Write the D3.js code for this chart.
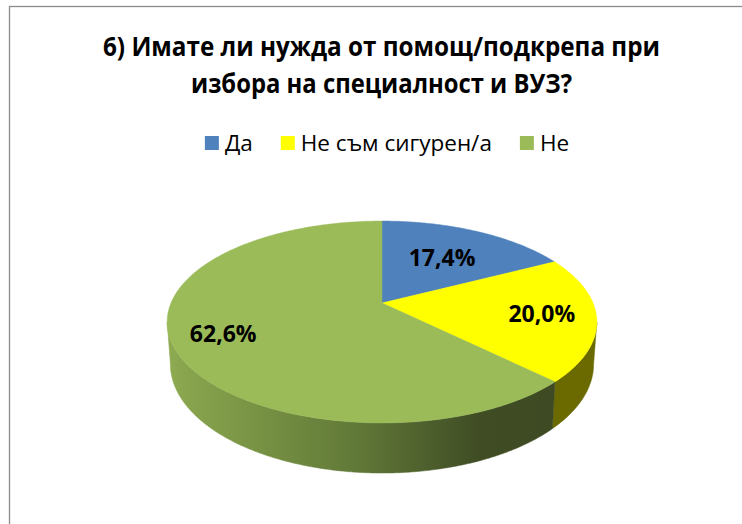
<html><head>
  <script src="https://d3js.org/d3.v7.min.js"></script>
  <style>
  body { margin: 0; background: #fff; }
  text { font-family: "Open Sans", "Noto Sans", sans-serif; fill: #000; }
  .title { font-weight: 700; font-size: 27px; text-anchor: middle; }
  .legend text { font-size: 22.5px; }
  .label { font-weight: 700; font-size: 23px; text-anchor: middle; }
  </style>
</head>
<body>
  <svg id="chart" width="742" height="524"></svg>

  <script>

  // data
  const titleLines = ["6) Имате ли нужда от помощ/подкрепа при", "избора на специалност и ВУЗ?"];
  const categories = ["Да", "Не съм сигурен/а", "Не"];
  const values = [17.4, 20.0, 62.6];
  const colors = ["#4F81BD", "#FFFF00", "#9BBB59"];
  const sideColors = ["#2f4d72", "#6a6a00", "url(#greenSide)"];

  // layout of the tilted pie (perspective: apex, half widths, depth)
  const cx = 382, apexY = 303;
  const rx = 211, tilt = -40.4, persp = 0.188, depth = 40.7, shrink = 0.985;
  const labelRadius = [0.6, 0.75, 0.77];

  let svg = d3.select("#chart");

  // frame
  svg.append("rect")
    .attr("x", 9.5).attr("y", 6.5)
    .attr("width", 800).attr("height", 600)
    .style("fill", "#fff").style("stroke", "#8c8c8c").style("stroke-width", 1.3);

  // title
  const titleWidths = [557, 381];
  titleLines.forEach( (t, i) => {
    svg.append("text")
      .attr("class", "title")
      .attr("x", 381.5)
      .attr("y", 56 + i * 37)
      .attr("textLength", titleWidths[i])
      .attr("lengthAdjust", "spacingAndGlyphs")
      .text(t);
  });

  // legend
  let legend = svg.append("g").attr("class", "legend");
  let lx = 0;
  categories.forEach( (c, i) => {
    let item = legend.append("g").attr("transform", "translate(" + lx + ",0)");
    item.append("rect")
      .attr("x", 0).attr("y", 136)
      .attr("width", 14).attr("height", 14)
      .style("fill", colors[i]);
    let t = item.append("text")
      .attr("x", 20).attr("y", 150.5)
      .text(c);
    lx += 20 + t.node().getComputedTextLength() + 28;
  });
  let legendW = lx - 28;
  legend.attr("transform", "translate(" + (387 - legendW / 2) + ",0)");

  // gradient for the green wall
  let defs = svg.append("defs");
  let grad = defs.append("linearGradient")
    .attr("id", "greenSide")
    .attr("gradientUnits", "userSpaceOnUse")
    .attr("x1", 167).attr("x2", 597).attr("y1", 0).attr("y2", 0);
  [[0, "#8eab52"], [0.03, "#8aa64e"], [0.43, "#627a38"], [0.73, "#3f4c24"], [1, "#3d4922"]]
    .forEach( s => grad.append("stop").attr("offset", s[0]).attr("stop-color", s[1]) );

  // projection of a point on the pie (angle from 12 o'clock, clockwise)
  function proj(a, r, bottom) {
    let u = r * Math.sin(a), v = r * Math.cos(a);
    let w = 1 + persp * v;
    let x = cx + rx * (bottom ? shrink : 1) * u / w;
    let y = (apexY + (bottom ? depth : 0) + tilt * v) / w;
    return [x, y];
  }

  function arcPoints(a0, a1, bottom) {
    let pts = [];
    let n = Math.max(2, Math.ceil(Math.abs(a1 - a0) / (Math.PI / 360)));
    for (let j = 0; j <= n; j++) {
      pts.push(proj(a0 + (a1 - a0) * j / n, 1, bottom));
    }
    return pts;
  }

  const pie = d3.pie().sort(null).value(d => d);
  const arcs = pie(values);

  const line = d3.line();
  const aRight = Math.acos(-persp);
  const aLeft = 2 * Math.PI - aRight;

  // walls
  let walls = svg.append("g");
  arcs.forEach( (d, i) => {
    let a0 = Math.max(d.startAngle, aRight);
    let a1 = Math.min(d.endAngle, aLeft);
    if (a1 <= a0) return;
    let pts = arcPoints(a0, a1, false).concat(arcPoints(a1, a0, true));
    walls.append("path")
      .attr("d", line(pts) + "Z")
      .style("fill", sideColors[i])
      .style("stroke", sideColors[i])
      .style("stroke-width", 0.5);
  });

  // top faces
  let faces = svg.append("g");
  arcs.forEach( (d, i) => {
    let pts = [[cx, apexY]].concat(arcPoints(d.startAngle, d.endAngle, false));
    faces.append("path")
      .attr("d", line(pts) + "Z")
      .style("fill", colors[i])
      .style("stroke", colors[i])
      .style("stroke-width", 0.5);
  });

  // labels
  arcs.forEach( (d, i) => {
    let mid = (d.startAngle + d.endAngle) / 2;
    let p = proj(mid, labelRadius[i], false);
    svg.append("text")
      .attr("class", "label")
      .attr("x", p[0])
      .attr("y", p[1])
      .attr("dy", "0.36em")
      .text(d3.format(".1f")(d.data).replace(".", ",") + "%");
  });

  </script>

</body>
</html>
